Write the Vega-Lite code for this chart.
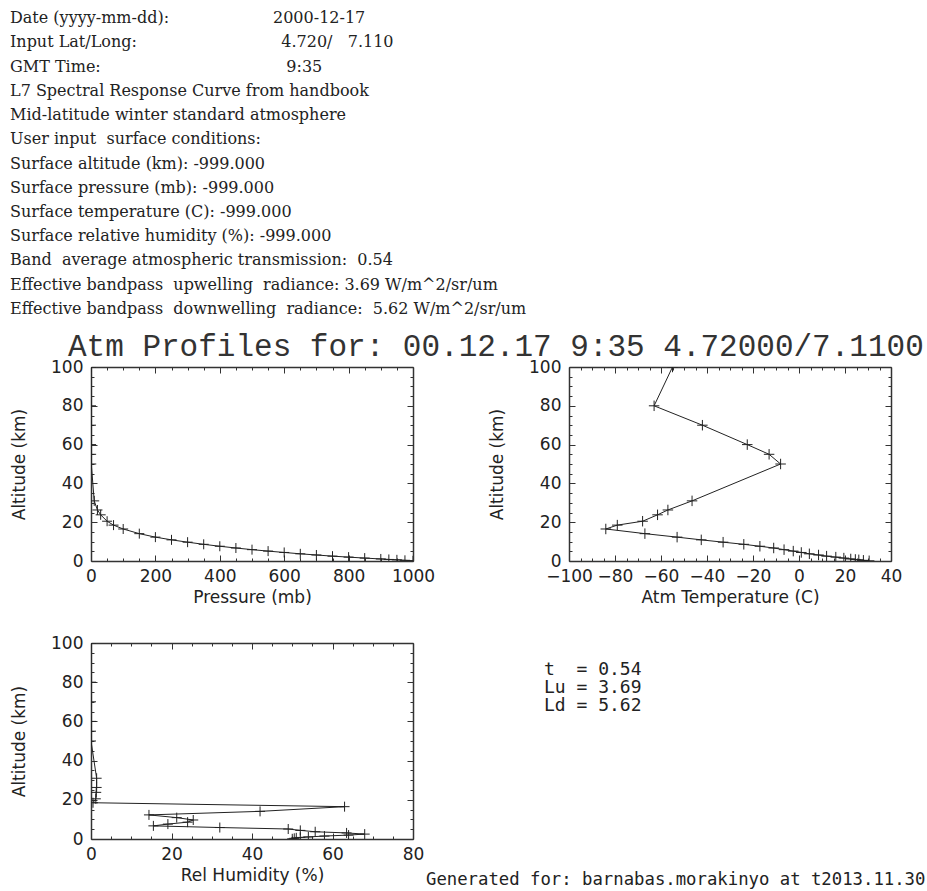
{
  "$schema": "https://vega.github.io/schema/vega-lite/v6.json",
  "background": "white",
  "padding": {"left": 10, "top": 6, "right": 0, "bottom": 0},
  "config": {
    "view": {"stroke": null},
    "axis": {
      "grid": false,
      "labelFont": "DejaVu Sans", "labelFontSize": 17, "labelColor": "#222",
      "titleFont": "DejaVu Sans", "titleFontSize": 17, "titleFontWeight": "normal", "titleColor": "#222",
      "domainColor": "#333", "domainWidth": 1.5, "tickColor": "#333", "tickWidth": 1,
      "labelFlush": false, "labelOverlap": false
    }
  },
  "datasets": {
    "header": [
      {"line": 1, "col": "label", "text": "Date (yyyy-mm-dd):"},
      {"line": 1, "col": "value", "text": "2000-12-17"},
      {"line": 2, "col": "label", "text": "Input Lat/Long:"},
      {"line": 2, "col": "value", "text": "\u200b\u00a0\u20094.720/\u00a0\u00a0\u00a07.110"},
      {"line": 3, "col": "label", "text": "GMT Time:"},
      {"line": 3, "col": "value", "text": "\u200b\u00a0\u00a0\u20099:35"},
      {"line": 4, "col": "label", "text": "L7 Spectral Response Curve from handbook"},
      {"line": 5, "col": "label", "text": "Mid-latitude winter standard atmosphere"},
      {"line": 6, "col": "label", "text": "User input\u00a0 surface conditions:"},
      {"line": 7, "col": "label", "text": "Surface altitude (km): -999.000"},
      {"line": 8, "col": "label", "text": "Surface pressure (mb): -999.000"},
      {"line": 9, "col": "label", "text": "Surface temperature (C): -999.000"},
      {"line": 10, "col": "label", "text": "Surface relative humidity (%): -999.000"},
      {"line": 11, "col": "label", "text": "Band\u00a0 average atmospheric transmission:\u00a0 0.54"},
      {"line": 12, "col": "label", "text": "Effective bandpass\u00a0 upwelling\u00a0 radiance: 3.69 W/m^2/sr/um"},
      {"line": 13, "col": "label", "text": "Effective bandpass\u00a0 downwelling\u00a0 radiance:\u00a0 5.62 W/m^2/sr/um"}
    ],
    "profile": [
      {"alt": 0.1, "p": 1000, "t": 30.5, "rh": 50},
      {"alt": 0.35, "p": 975, "t": 28, "rh": 50.5},
      {"alt": 0.6, "p": 950, "t": 26, "rh": 51},
      {"alt": 0.8, "p": 925, "t": 24.5, "rh": 52},
      {"alt": 1.05, "p": 900, "t": 22.5, "rh": 54},
      {"alt": 1.5, "p": 850, "t": 19.5, "rh": 58},
      {"alt": 2.0, "p": 800, "t": 16, "rh": 64},
      {"alt": 2.5, "p": 750, "t": 12, "rh": 68},
      {"alt": 3.1, "p": 700, "t": 8.5, "rh": 63.5},
      {"alt": 3.7, "p": 650, "t": 4.5, "rh": 55.7},
      {"alt": 4.4, "p": 600, "t": 1, "rh": 52},
      {"alt": 5.1, "p": 550, "t": -2.5, "rh": 49},
      {"alt": 5.85, "p": 500, "t": -6.5, "rh": 32},
      {"alt": 6.7, "p": 450, "t": -11, "rh": 15.5},
      {"alt": 7.6, "p": 400, "t": -17, "rh": 19.1},
      {"alt": 8.6, "p": 350, "t": -24, "rh": 24},
      {"alt": 9.7, "p": 300, "t": -33, "rh": 25.4},
      {"alt": 10.9, "p": 250, "t": -42.5, "rh": 21.3},
      {"alt": 12.3, "p": 200, "t": -53, "rh": 14.4},
      {"alt": 14.1, "p": 150, "t": -67, "rh": 42},
      {"alt": 16.5, "p": 100, "t": -84, "rh": 63},
      {"alt": 18.5, "p": 70, "t": -79, "rh": 0.5},
      {"alt": 20.5, "p": 50, "t": -68, "rh": 1.2},
      {"alt": 23.8, "p": 30, "t": -61.5, "rh": 1.3},
      {"alt": 26.3, "p": 20, "t": -57, "rh": 1.4},
      {"alt": 31.0, "p": 10, "t": -46.5, "rh": 1.4},
      {"alt": 50, "p": 0.8, "t": -8, "rh": 0},
      {"alt": 55, "p": 0.43, "t": -13, "rh": 0},
      {"alt": 60, "p": 0.22, "t": -22.5, "rh": 0},
      {"alt": 70, "p": 0.05, "t": -42, "rh": 0},
      {"alt": 80, "p": 0.01, "t": -63, "rh": 0},
      {"alt": 100, "p": 0.0003, "t": -55, "rh": 0}
    ],
    "summary": [
      {"line": 1, "text": "t\u00a0\u00a0= 0.54"},
      {"line": 2, "text": "Lu = 3.69"},
      {"line": 3, "text": "Ld = 5.62"}
    ]
  },
  "spacing": 10,
  "vconcat": [
    {
      "width": 263,
      "height": 315,
      "data": {"name": "header"},
      "mark": {"type": "text", "align": "left", "baseline": "middle", "font": "DejaVu Serif", "fontSize": 16, "color": "#222", "dx": -81},
      "encoding": {
        "x": {"field": "col", "type": "nominal", "scale": {"type": "point", "padding": 0, "domain": ["label", "value"]}, "axis": null},
        "y": {"field": "line", "type": "ordinal", "scale": {"type": "band", "paddingInner": 0, "paddingOuter": 0}, "axis": null},
        "text": {"field": "text"}
      }
    },
    {
      "spacing": 29,
      "vconcat": [
        {
          "title": {"text": "Atm Profiles for: 00.12.17 9:35 4.72000/7.1100", "anchor": "start", "frame": "group", "font": "Liberation Mono", "fontSize": 31, "fontWeight": "normal", "color": "#333", "offset": -5, "dx": -23},
          "spacing": 53,
          "hconcat": [
            {
              "width": 322, "height": 194,
              "data": {"name": "profile"},
              "encoding": {
                "x": {"field": "p", "type": "quantitative", "scale": {"domain": [0, 1000], "nice": false, "zero": false},
                  "axis": {"orient": "bottom", "title": "Pressure (mb)", "format": "d", "values": [0,50,100,150,200,250,300,350,400,450,500,550,600,650,700,750,800,850,900,950,1000],
                    "labelExpr": "datum.value % 200 === 0 ? datum.label : ''",
                    "tickSize": {"condition": {"test": "datum.value % 200 === 0", "value": -6}, "value": -3},
                    "labelPadding": 13, "titlePadding": 2}},
                "y": {"field": "alt", "type": "quantitative", "scale": {"domain": [0, 100], "nice": false, "zero": false},
                  "axis": {"orient": "left", "title": "Altitude (km)", "values": [0,5,10,15,20,25,30,35,40,45,50,55,60,65,70,75,80,85,90,95,100],
                    "labelExpr": "datum.value % 20 === 0 ? datum.label : ''",
                    "tickSize": {"condition": {"test": "datum.value % 20 === 0", "value": -6}, "value": -3},
                    "labelPadding": 14, "titlePadding": 22}},
                "order": {"field": "alt", "type": "quantitative"}
              },
              "layer": [
                {"mark": {"type": "line", "color": "#222", "strokeWidth": 1, "clip": true}},
                {
                  "mark": {"type": "point", "shape": "M-1,0H1M0,-1V1", "size": 100, "filled": false, "color": "#222", "strokeWidth": 1, "opacity": 1, "clip": true},
                  "encoding": {
                    "x": {"field": "p", "type": "quantitative", "scale": {"domain": [0, 1000], "nice": false, "zero": false},
                      "axis": {"orient": "top", "title": null, "labels": false, "values": [0,50,100,150,200,250,300,350,400,450,500,550,600,650,700,750,800,850,900,950,1000],
                        "tickSize": {"condition": {"test": "datum.value % 200 === 0", "value": -6}, "value": -3}}},
                    "y": {"field": "alt", "type": "quantitative", "scale": {"domain": [0, 100], "nice": false, "zero": false},
                      "axis": {"orient": "right", "title": null, "labels": false, "values": [0,5,10,15,20,25,30,35,40,45,50,55,60,65,70,75,80,85,90,95,100],
                        "tickSize": {"condition": {"test": "datum.value % 20 === 0", "value": -6}, "value": -3}}}
                  }
                }
              ],
              "resolve": {"axis": {"x": "independent", "y": "independent"}}
            },
            {
              "width": 322, "height": 194,
              "data": {"name": "profile"},
              "encoding": {
                "x": {"field": "t", "type": "quantitative", "scale": {"domain": [-100, 40], "nice": false, "zero": false},
                  "axis": {"orient": "bottom", "title": "Atm Temperature (C)", "values": [-100,-95,-90,-85,-80,-75,-70,-65,-60,-55,-50,-45,-40,-35,-30,-25,-20,-15,-10,-5,0,5,10,15,20,25,30,35,40],
                    "labelExpr": "datum.value % 20 === 0 ? datum.label : ''",
                    "tickSize": {"condition": {"test": "datum.value % 20 === 0", "value": -6}, "value": -3},
                    "labelPadding": 13, "titlePadding": 2}},
                "y": {"field": "alt", "type": "quantitative", "scale": {"domain": [0, 100], "nice": false, "zero": false},
                  "axis": {"orient": "left", "title": "Altitude (km)", "values": [0,5,10,15,20,25,30,35,40,45,50,55,60,65,70,75,80,85,90,95,100],
                    "labelExpr": "datum.value % 20 === 0 ? datum.label : ''",
                    "tickSize": {"condition": {"test": "datum.value % 20 === 0", "value": -6}, "value": -3},
                    "labelPadding": 14, "titlePadding": 22}},
                "order": {"field": "alt", "type": "quantitative"}
              },
              "layer": [
                {"mark": {"type": "line", "color": "#222", "strokeWidth": 1, "clip": true}},
                {
                  "mark": {"type": "point", "shape": "M-1,0H1M0,-1V1", "size": 110, "filled": false, "color": "#222", "strokeWidth": 1, "opacity": 1, "clip": true},
                  "encoding": {
                    "x": {"field": "t", "type": "quantitative", "scale": {"domain": [-100, 40], "nice": false, "zero": false},
                      "axis": {"orient": "top", "title": null, "labels": false, "values": [-100,-95,-90,-85,-80,-75,-70,-65,-60,-55,-50,-45,-40,-35,-30,-25,-20,-15,-10,-5,0,5,10,15,20,25,30,35,40],
                        "tickSize": {"condition": {"test": "datum.value % 20 === 0", "value": -6}, "value": -3}}},
                    "y": {"field": "alt", "type": "quantitative", "scale": {"domain": [0, 100], "nice": false, "zero": false},
                      "axis": {"orient": "right", "title": null, "labels": false, "values": [0,5,10,15,20,25,30,35,40,45,50,55,60,65,70,75,80,85,90,95,100],
                        "tickSize": {"condition": {"test": "datum.value % 20 === 0", "value": -6}, "value": -3}}}
                  }
                }
              ],
              "resolve": {"axis": {"x": "independent", "y": "independent"}}
            }
          ]
        },
        {
          "spacing": 2,
          "hconcat": [
            {
              "width": 322, "height": 196,
              "data": {"name": "profile"},
              "encoding": {
                "x": {"field": "rh", "type": "quantitative", "scale": {"domain": [0, 80], "nice": false, "zero": false},
                  "axis": {"orient": "bottom", "title": "Rel Humidity (%)", "values": [0,5,10,15,20,25,30,35,40,45,50,55,60,65,70,75,80],
                    "labelExpr": "datum.value % 20 === 0 ? datum.label : ''",
                    "tickSize": {"condition": {"test": "datum.value % 20 === 0", "value": -6}, "value": -3},
                    "labelPadding": 13, "titlePadding": 2}},
                "y": {"field": "alt", "type": "quantitative", "scale": {"domain": [0, 100], "nice": false, "zero": false},
                  "axis": {"orient": "left", "title": "Altitude (km)", "values": [0,5,10,15,20,25,30,35,40,45,50,55,60,65,70,75,80,85,90,95,100],
                    "labelExpr": "datum.value % 20 === 0 ? datum.label : ''",
                    "tickSize": {"condition": {"test": "datum.value % 20 === 0", "value": -6}, "value": -3},
                    "labelPadding": 14, "titlePadding": 22}},
                "order": {"field": "alt", "type": "quantitative"}
              },
              "layer": [
                {"mark": {"type": "line", "color": "#222", "strokeWidth": 1, "clip": true}},
                {
                  "mark": {"type": "point", "shape": "M-1,0H1M0,-1V1", "size": 100, "filled": false, "color": "#222", "strokeWidth": 1, "opacity": 1, "clip": true},
                  "encoding": {
                    "x": {"field": "rh", "type": "quantitative", "scale": {"domain": [0, 80], "nice": false, "zero": false},
                      "axis": {"orient": "top", "title": null, "labels": false, "values": [0,5,10,15,20,25,30,35,40,45,50,55,60,65,70,75,80],
                        "tickSize": {"condition": {"test": "datum.value % 20 === 0", "value": -6}, "value": -3}}},
                    "y": {"field": "alt", "type": "quantitative", "scale": {"domain": [0, 100], "nice": false, "zero": false},
                      "axis": {"orient": "right", "title": null, "labels": false, "values": [0,5,10,15,20,25,30,35,40,45,50,55,60,65,70,75,80,85,90,95,100],
                        "tickSize": {"condition": {"test": "datum.value % 20 === 0", "value": -6}, "value": -3}}}
                  }
                }
              ],
              "resolve": {"axis": {"x": "independent", "y": "independent"}}
            },
            {
              "width": 236, "height": 90,
              "data": {"name": "summary"},
              "title": {"text": "Generated for: barnabas.morakinyo at t2013.11.30", "orient": "bottom", "anchor": "start", "frame": "group", "font": "DejaVu Sans Mono", "fontSize": 17.3, "fontWeight": "normal", "color": "#222", "offset": 138},
              "mark": {"type": "text", "align": "left", "baseline": "middle", "font": "DejaVu Sans Mono", "fontSize": 18, "color": "#222"},
              "encoding": {
                "y": {"field": "line", "type": "ordinal", "scale": {"type": "band", "paddingInner": 0, "paddingOuter": 1.227}, "axis": null},
                "text": {"field": "text"}
              }
            }
          ]
        }
      ]
    }
  ]
}
